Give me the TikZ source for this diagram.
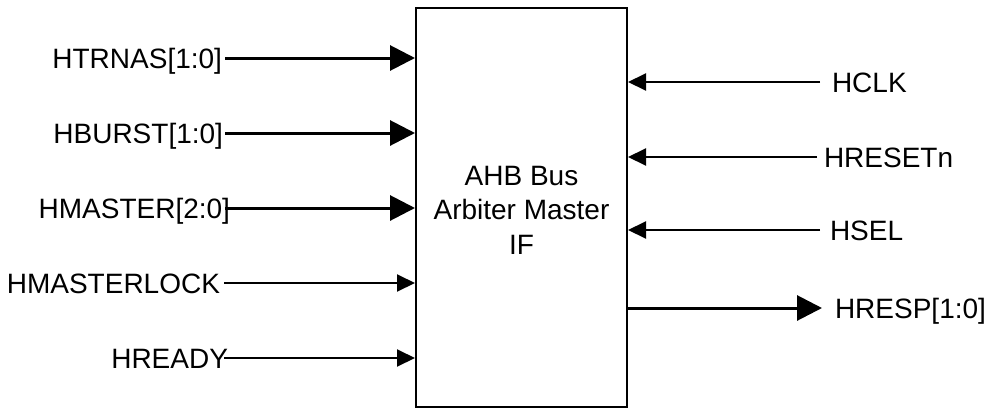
\documentclass[tikz,border=0pt]{standalone}
\usepackage{fontspec}
\setmainfont{Liberation Sans}
\usetikzlibrary{arrows.meta}
\begin{document}
\begin{tikzpicture}[x=1pt,y=-1pt,
  sig/.style={font=\fontsize{28}{34.5}\selectfont, inner sep=0pt, outer sep=0pt},
  thinarrow/.style={line width=2pt, -{Triangle[length=18pt,width=17pt]}},
  busarrow/.style={line width=3pt, -{Triangle[length=25pt,width=25pt]}},
  blockbox/.style={draw, line width=2pt, minimum width=211pt, minimum height=399pt, inner sep=0pt}
]
\useasboundingbox (0,0) rectangle (994,410);
\node[blockbox] (box) at (521.5,207.5) {};
\node[sig, align=center] (title) at (521.5,210) {AHB Bus\\Arbiter Master\\IF};

% left labels
\node[sig, anchor=base east] (htrnas) at (222,68) {HTRNAS[1:0]};
\node[sig, anchor=base east] (hburst) at (223,143) {HBURST[1:0]};
\node[sig, anchor=base east] (hmaster) at (230,218) {HMASTER[2:0]};
\node[sig, anchor=base east] (hmlock) at (220,293) {HMASTERLOCK};
\node[sig, anchor=base east] (hready) at (228,368) {HREADY};

\coordinate (l1) at (225,58);
\coordinate (l2) at (225,133);
\coordinate (l3) at (225,208);
\coordinate (l4) at (224,283);
\coordinate (l5) at (224,358);

\draw[busarrow] (l1) -- (box.west |- l1);
\draw[busarrow] (l2) -- (box.west |- l2);
\draw[busarrow] (l3) -- (box.west |- l3);
\draw[thinarrow] (l4) -- (box.west |- l4);
\draw[thinarrow] (l5) -- (box.west |- l5);

% right labels
\node[sig, anchor=base west] (hclk) at (832,92) {HCLK};
\node[sig, anchor=base west] (hresetn) at (824,167) {HRESETn};
\node[sig, anchor=base west] (hsel) at (830,240) {HSEL};
\node[sig, anchor=base west] (hresp) at (835,318) {HRESP[1:0]};

\coordinate (r1) at (820,82);
\coordinate (r2) at (817,157);
\coordinate (r3) at (820,230);
\coordinate (r4) at (822,308);

\draw[thinarrow] (r1) -- (box.east |- r1);
\draw[thinarrow] (r2) -- (box.east |- r2);
\draw[thinarrow] (r3) -- (box.east |- r3);
\draw[busarrow] (box.east |- r4) -- (r4);
\end{tikzpicture}
\end{document}
